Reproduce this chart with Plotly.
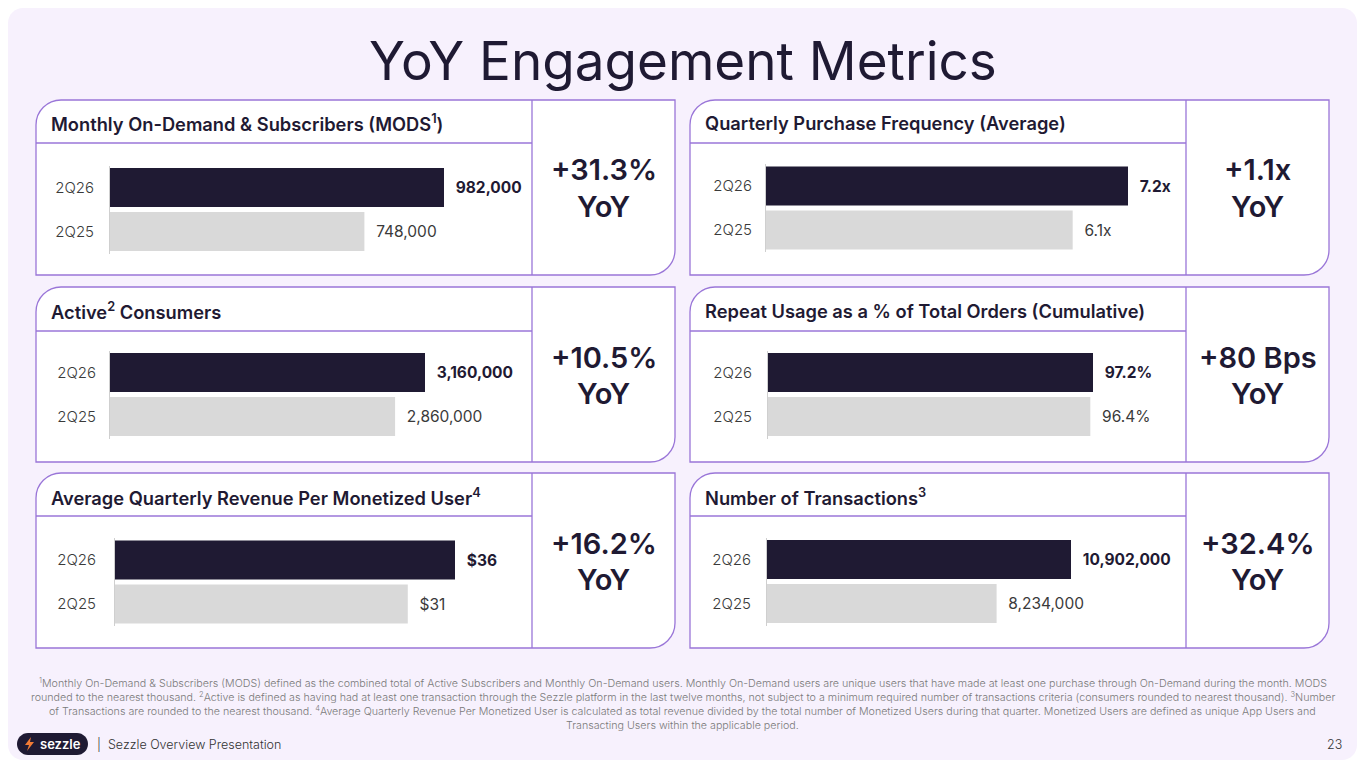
import plotly.graph_objects as go

W, H = 1365, 768

# ---------------- data ----------------
categories = ["2Q25", "2Q26"]
panel_titles = [
    "Monthly On-Demand & Subscribers (MODS<sup>1</sup>)",
    "Quarterly Purchase Frequency (Average)",
    "Active<sup>2</sup> Consumers",
    "Repeat Usage as a % of Total Orders (Cumulative)",
    "Average Quarterly Revenue Per Monetized User<sup>4</sup>",
    "Number of Transactions<sup>3</sup>",
]
values_2q26 = [982000, 7.2, 3160000, 97.2, 36, 10902000]
values_2q25 = [748000, 6.1, 2860000, 96.4, 31, 8234000]
value_formats = ["{:,.0f}", "{:.1f}x", "{:,.0f}", "{:.1f}%", "${:.0f}", "{:,.0f}"]
yoy_top = ["+31.3%", "+1.1x", "+10.5%", "+80 Bps", "+16.2%", "+32.4%"]
yoy_bottom = ["YoY"] * 6

title_text = "YoY Engagement Metrics"
footnote_lines = [
    "<sup>1</sup>Monthly On-Demand & Subscribers (MODS) defined as the combined total of Active Subscribers and Monthly On-Demand users. Monthly On-Demand users are unique users that have made at least one purchase through On-Demand during the month. MODS",
    "rounded to the nearest thousand. <sup>2</sup>Active is defined as having had at least one transaction through the Sezzle platform in the last twelve months, not subject to a minimum required number of transactions criteria (consumers rounded to nearest thousand). <sup>3</sup>Number",
    "of Transactions are rounded to the nearest thousand. <sup>4</sup>Average Quarterly Revenue Per Monetized User is calculated as total revenue divided by the total number of Monetized Users during that quarter. Monetized Users are defined as unique App Users and",
    "Transacting Users within the applicable period.",
]
footer_text = "|  Sezzle Overview Presentation"
page_number = "23"

# ---------------- layout geometry (pixels) ----------------
col_x = [(36, 532, 675), (690, 1186, 1329)]        # left, divider, right
row_y = [(100, 143, 275), (287, 331, 462), (473, 516, 648)]  # top, header line, bottom
bar_start = [110, 766, 110, 768, 115, 767]
bar26_len = [334, 362, 315, 325, 340, 304]
bar26_center = [187.5, 186, 372.5, 372.5, 560, 559.5]
pitch = 44
standoff = [12, 10, 10, 12, 15, 12]
label_gap = [2, 2, 2, 2, 2, 2]   # non-breaking spaces before value labels

DARK = "#1f1a33"
LIGHT = "#d9d9d9"
PURPLE = "#9a76d8"
LAV = "#f7f1fd"
FONT = "Inter"


def X(px):
    return px / W


def Y(py):
    return 1 - py / H


def pt(x, y):
    return f"{X(x):.6f},{Y(y):.6f}"


K = 0.5523


def panel_path(x0, y0, x1, y1, r):
    return (
        f"M{pt(x0, y0 + r)} C{pt(x0, y0 + r - K * r)} {pt(x0 + r - K * r, y0)} {pt(x0 + r, y0)} "
        f"L{pt(x1, y0)} L{pt(x1, y1 - r)} "
        f"C{pt(x1, y1 - r + K * r)} {pt(x1 - r + K * r, y1)} {pt(x1 - r, y1)} "
        f"L{pt(x0, y1)} Z"
    )


def round_rect(x0, y0, x1, y1, r):
    return (
        f"M{pt(x0 + r, y0)} L{pt(x1 - r, y0)} C{pt(x1 - r + K * r, y0)} {pt(x1, y0 + r - K * r)} {pt(x1, y0 + r)} "
        f"L{pt(x1, y1 - r)} C{pt(x1, y1 - r + K * r)} {pt(x1 - r + K * r, y1)} {pt(x1 - r, y1)} "
        f"L{pt(x0 + r, y1)} C{pt(x0 + r - K * r, y1)} {pt(x0, y1 - r + K * r)} {pt(x0, y1 - r)} "
        f"L{pt(x0, y0 + r)} C{pt(x0, y0 + r - K * r)} {pt(x0 + r - K * r, y0)} {pt(x0 + r, y0)} Z"
    )


fig = go.Figure()
shapes = []
annotations = []

# slide background
shapes.append(dict(type="path", xref="paper", yref="paper", path=round_rect(8, 8, 1357, 760, 15),
                   fillcolor=LAV, line=dict(width=0), layer="below"))

layout_axes = {}
for i in range(6):
    col = i % 2
    row = i // 2
    x0, xd, x1 = col_x[col]
    y0, yh, y1 = row_y[row]
    # panel box
    shapes.append(dict(type="path", xref="paper", yref="paper", path=panel_path(x0, y0, x1, y1, 25),
                       fillcolor="white", line=dict(color=PURPLE, width=1.3), layer="below"))
    shapes.append(dict(type="line", xref="paper", yref="paper", x0=X(x0), x1=X(xd), y0=Y(yh), y1=Y(yh),
                       line=dict(color=PURPLE, width=1.3), layer="below"))
    shapes.append(dict(type="line", xref="paper", yref="paper", x0=X(xd), x1=X(xd), y0=Y(y0), y1=Y(y1),
                       line=dict(color=PURPLE, width=1.3), layer="below"))
    # header title
    annotations.append(dict(text=panel_titles[i], x=X(x0 + 13), y=Y((y0 + yh) / 2 + 2),
                            xref="paper", yref="paper", xanchor="left", yanchor="middle", showarrow=False,
                            font=dict(family=FONT, size=18.3, color=DARK, weight=600)))
    # YoY text
    cx = (xd + x1) / 2
    annotations.append(dict(text=yoy_top[i], x=X(cx), y=Y(y0 + 70), xref="paper", yref="paper",
                            xanchor="center", yanchor="middle", showarrow=False,
                            font=dict(family=FONT, size=29, color=DARK, weight=600)))
    annotations.append(dict(text=yoy_bottom[i], x=X(cx), y=Y(y0 + 106), xref="paper", yref="paper",
                            xanchor="center", yanchor="middle", showarrow=False,
                            font=dict(family=FONT, size=29, color=DARK, weight=600)))

    # bar axes
    xs = bar_start[i]
    xe = xd - 5
    rmax = values_2q26[i] * (xe - xs) / bar26_len[i]
    dom_top = bar26_center[i] - pitch / 2
    dom_bot = bar26_center[i] + pitch * 1.5
    suffix = "" if i == 0 else str(i + 1)
    layout_axes[f"xaxis{suffix}"] = dict(domain=[X(xs), X(xe)], range=[0, rmax], visible=False,
                                         anchor=f"y{suffix}", fixedrange=True)
    layout_axes[f"yaxis{suffix}"] = dict(domain=[Y(dom_bot), Y(dom_top)], anchor=f"x{suffix}",
                                         type="category", categoryorder="array", categoryarray=categories,
                                         range=[-0.5, 1.5], showline=True, linecolor="#cfcfcf", linewidth=1,
                                         showgrid=False, zeroline=False, ticks="", ticklabelstandoff=standoff[i],
                                         tickfont=dict(family=FONT, size=15, color="#3a3a3a", weight=300),
                                         fixedrange=True)
    fmt = value_formats[i]
    vals = [values_2q25[i], values_2q26[i]]
    pad = "\u00a0" * label_gap[i]
    texts = [pad + fmt.format(values_2q25[i]), pad + "<b>" + fmt.format(values_2q26[i]) + "</b>"]
    fig.add_trace(go.Bar(
        x=vals, y=categories, orientation="h",
        marker=dict(color=[LIGHT, DARK], line=dict(width=0)),
        text=texts, textposition="outside", constraintext="none", cliponaxis=False,
        textfont=dict(family=FONT, size=15.5, color=["#3a3a3a", DARK]),
        hoverinfo="skip", xaxis=f"x{suffix}", yaxis=f"y{suffix}", showlegend=False,
    ))

# title
annotations.append(dict(text=title_text, x=0.5, y=Y(61), xref="paper", yref="paper", xanchor="center",
                        yanchor="middle", showarrow=False, font=dict(family=FONT, size=53, color=DARK, weight=400)))

# footnotes
foot_y = [683, 697, 711, 725]
for line, fy in zip(footnote_lines, foot_y):
    annotations.append(dict(text=line, x=0.5, y=Y(fy), xref="paper", yref="paper", xanchor="center",
                            yanchor="middle", showarrow=False,
                            font=dict(family=FONT, size=10.7, color="#7a7a7a", weight=300)))

# logo pill
shapes.append(dict(type="path", xref="paper", yref="paper", path=round_rect(17, 733, 88, 755, 11),
                   fillcolor=DARK, line=dict(width=0)))
# lightning icon
shapes.append(dict(type="path", xref="paper", yref="paper",
                   path=f"M{pt(31, 737)} L{pt(25, 745)} L{pt(29, 745)} L{pt(27, 751)} L{pt(34, 742)} L{pt(30, 742)} Z",
                   fillcolor="#f27b35", line=dict(width=0)))
annotations.append(dict(text="sezzle", x=X(60), y=Y(744), xref="paper", yref="paper", xanchor="center",
                        yanchor="middle", showarrow=False, font=dict(family=FONT, size=13, color="white", weight=600)))
annotations.append(dict(text=footer_text, x=X(95), y=Y(744), xref="paper", yref="paper", xanchor="left",
                        yanchor="middle", showarrow=False, font=dict(family=FONT, size=12.5, color="#333333", weight=300)))
annotations.append(dict(text=page_number, x=X(1344), y=Y(744), xref="paper", yref="paper", xanchor="right",
                        yanchor="middle", showarrow=False, font=dict(family=FONT, size=12.5, color="#333333", weight=300)))

fig.update_layout(
    width=W, height=H, margin=dict(l=0, r=0, t=0, b=0),
    paper_bgcolor="white", plot_bgcolor="rgba(0,0,0,0)",
    bargap=0.11, shapes=shapes, annotations=annotations,
    font=dict(family=FONT), **layout_axes,
)

fig.write_html("out.html", config={"displayModeBar": False},
               post_script="document.body.style.margin='0';document.body.style.overflow='hidden';")
